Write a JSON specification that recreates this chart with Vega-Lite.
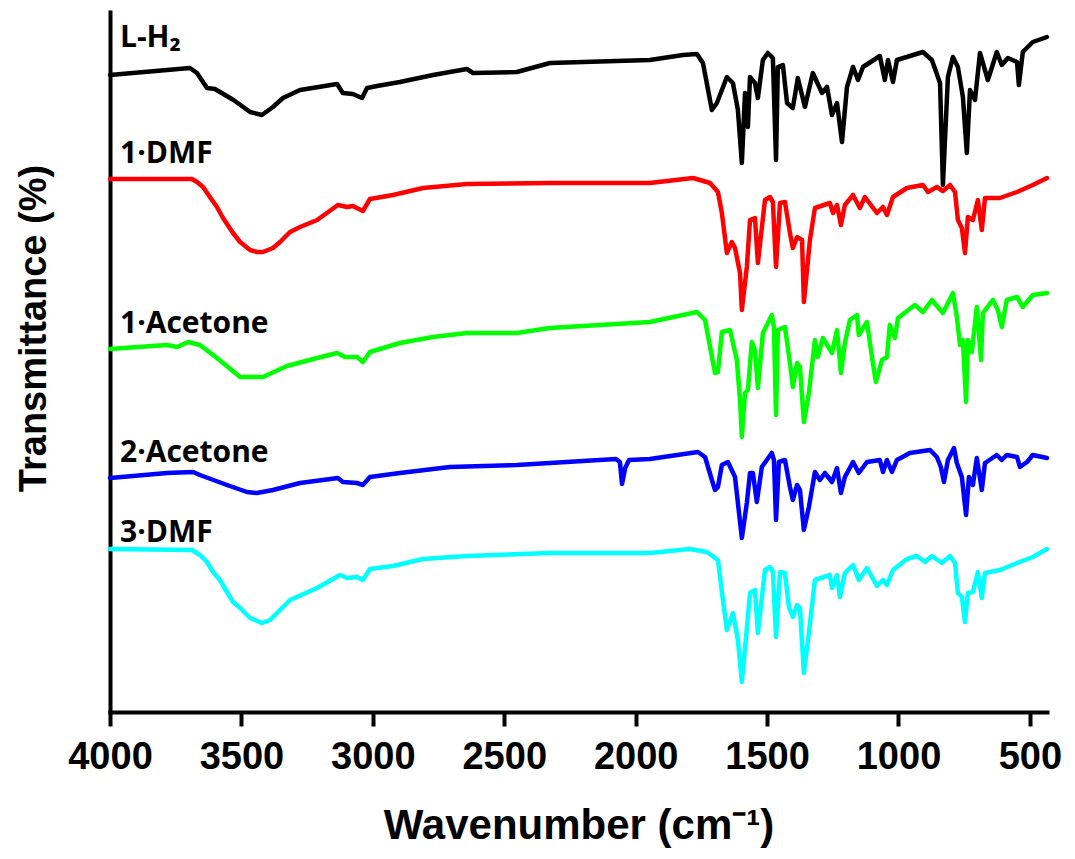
{
"$schema":"https://vega.github.io/schema/vega-lite/v6.json",
"width":937,"height":700,
"autosize":{"type":"none"},
"padding":{"left":110,"top":12,"right":28,"bottom":147},
"background":"white",
"config":{"view":{"stroke":null}},
"datasets":{
"spectra":[
{"s":"L-H2","w":4000,"t":637},{"s":"L-H2","w":3783,"t":642},{"s":"L-H2","w":3696,"t":644},{"s":"L-H2","w":3669,"t":639},{"s":"L-H2","w":3631,"t":624},{"s":"L-H2","w":3601,"t":623},{"s":"L-H2","w":3530,"t":612},{"s":"L-H2","w":3467,"t":600},{"s":"L-H2","w":3422,"t":597},{"s":"L-H2","w":3380,"t":605},{"s":"L-H2","w":3342,"t":614},{"s":"L-H2","w":3277,"t":622},{"s":"L-H2","w":3136,"t":628},{"s":"L-H2","w":3114,"t":619},{"s":"L-H2","w":3076,"t":618},{"s":"L-H2","w":3041,"t":614},{"s":"L-H2","w":3022,"t":624},{"s":"L-H2","w":2984,"t":626},{"s":"L-H2","w":2897,"t":630},{"s":"L-H2","w":2771,"t":637},{"s":"L-H2","w":2642,"t":643},{"s":"L-H2","w":2619,"t":639},{"s":"L-H2","w":2452,"t":640},{"s":"L-H2","w":2326,"t":649},{"s":"L-H2","w":1946,"t":652},{"s":"L-H2","w":1820,"t":657},{"s":"L-H2","w":1767,"t":658},{"s":"L-H2","w":1744,"t":649},{"s":"L-H2","w":1710,"t":602},{"s":"L-H2","w":1691,"t":609},{"s":"L-H2","w":1653,"t":635},{"s":"L-H2","w":1630,"t":629},{"s":"L-H2","w":1611,"t":602},{"s":"L-H2","w":1596,"t":549},{"s":"L-H2","w":1584,"t":619},{"s":"L-H2","w":1573,"t":585},{"s":"L-H2","w":1565,"t":635},{"s":"L-H2","w":1546,"t":629},{"s":"L-H2","w":1535,"t":614},{"s":"L-H2","w":1516,"t":652},{"s":"L-H2","w":1497,"t":659},{"s":"L-H2","w":1478,"t":654},{"s":"L-H2","w":1466,"t":552},{"s":"L-H2","w":1459,"t":645},{"s":"L-H2","w":1440,"t":647},{"s":"L-H2","w":1424,"t":609},{"s":"L-H2","w":1402,"t":604},{"s":"L-H2","w":1383,"t":634},{"s":"L-H2","w":1356,"t":605},{"s":"L-H2","w":1326,"t":639},{"s":"L-H2","w":1291,"t":619},{"s":"L-H2","w":1272,"t":625},{"s":"L-H2","w":1253,"t":597},{"s":"L-H2","w":1234,"t":609},{"s":"L-H2","w":1215,"t":570},{"s":"L-H2","w":1196,"t":625},{"s":"L-H2","w":1173,"t":645},{"s":"L-H2","w":1154,"t":632},{"s":"L-H2","w":1135,"t":645},{"s":"L-H2","w":1071,"t":656},{"s":"L-H2","w":1052,"t":632},{"s":"L-H2","w":1040,"t":652},{"s":"L-H2","w":1021,"t":630},{"s":"L-H2","w":1006,"t":652},{"s":"L-H2","w":907,"t":660},{"s":"L-H2","w":873,"t":652},{"s":"L-H2","w":842,"t":629},{"s":"L-H2","w":831,"t":527},{"s":"L-H2","w":812,"t":635},{"s":"L-H2","w":793,"t":655},{"s":"L-H2","w":774,"t":645},{"s":"L-H2","w":755,"t":615},{"s":"L-H2","w":740,"t":559},{"s":"L-H2","w":728,"t":622},{"s":"L-H2","w":709,"t":612},{"s":"L-H2","w":690,"t":659},{"s":"L-H2","w":660,"t":632},{"s":"L-H2","w":626,"t":660},{"s":"L-H2","w":607,"t":647},{"s":"L-H2","w":584,"t":654},{"s":"L-H2","w":549,"t":650},{"s":"L-H2","w":542,"t":627},{"s":"L-H2","w":527,"t":660},{"s":"L-H2","w":489,"t":670},{"s":"L-H2","w":435,"t":675},
{"s":"1·DMF","w":4000,"t":533},{"s":"1·DMF","w":3688,"t":533},{"s":"1·DMF","w":3669,"t":530},{"s":"1·DMF","w":3646,"t":525},{"s":"1·DMF","w":3620,"t":515},{"s":"1·DMF","w":3593,"t":505},{"s":"1·DMF","w":3570,"t":494},{"s":"1·DMF","w":3532,"t":479},{"s":"1·DMF","w":3505,"t":470},{"s":"1·DMF","w":3467,"t":462},{"s":"1·DMF","w":3441,"t":460},{"s":"1·DMF","w":3418,"t":460},{"s":"1·DMF","w":3380,"t":464},{"s":"1·DMF","w":3353,"t":470},{"s":"1·DMF","w":3315,"t":480},{"s":"1·DMF","w":3277,"t":485},{"s":"1·DMF","w":3212,"t":492},{"s":"1·DMF","w":3133,"t":507},{"s":"1·DMF","w":3098,"t":505},{"s":"1·DMF","w":3076,"t":506},{"s":"1·DMF","w":3038,"t":501},{"s":"1·DMF","w":3011,"t":513},{"s":"1·DMF","w":2923,"t":517},{"s":"1·DMF","w":2809,"t":524},{"s":"1·DMF","w":2642,"t":528},{"s":"1·DMF","w":2326,"t":529},{"s":"1·DMF","w":1946,"t":529},{"s":"1·DMF","w":1782,"t":534},{"s":"1·DMF","w":1717,"t":529},{"s":"1·DMF","w":1687,"t":520},{"s":"1·DMF","w":1672,"t":499},{"s":"1·DMF","w":1653,"t":459},{"s":"1·DMF","w":1634,"t":470},{"s":"1·DMF","w":1622,"t":464},{"s":"1·DMF","w":1603,"t":439},{"s":"1·DMF","w":1596,"t":402},{"s":"1·DMF","w":1577,"t":445},{"s":"1·DMF","w":1565,"t":492},{"s":"1·DMF","w":1546,"t":494},{"s":"1·DMF","w":1535,"t":449},{"s":"1·DMF","w":1508,"t":512},{"s":"1·DMF","w":1489,"t":515},{"s":"1·DMF","w":1478,"t":510},{"s":"1·DMF","w":1466,"t":445},{"s":"1·DMF","w":1451,"t":509},{"s":"1·DMF","w":1432,"t":510},{"s":"1·DMF","w":1413,"t":479},{"s":"1·DMF","w":1402,"t":464},{"s":"1·DMF","w":1386,"t":475},{"s":"1·DMF","w":1367,"t":472},{"s":"1·DMF","w":1360,"t":410},{"s":"1·DMF","w":1337,"t":472},{"s":"1·DMF","w":1318,"t":504},{"s":"1·DMF","w":1261,"t":509},{"s":"1·DMF","w":1249,"t":499},{"s":"1·DMF","w":1234,"t":507},{"s":"1·DMF","w":1219,"t":487},{"s":"1·DMF","w":1204,"t":507},{"s":"1·DMF","w":1173,"t":517},{"s":"1·DMF","w":1147,"t":504},{"s":"1·DMF","w":1128,"t":515},{"s":"1·DMF","w":1082,"t":499},{"s":"1·DMF","w":1059,"t":505},{"s":"1·DMF","w":1044,"t":497},{"s":"1·DMF","w":1021,"t":515},{"s":"1·DMF","w":968,"t":524},{"s":"1·DMF","w":907,"t":527},{"s":"1·DMF","w":888,"t":520},{"s":"1·DMF","w":854,"t":525},{"s":"1·DMF","w":831,"t":521},{"s":"1·DMF","w":804,"t":527},{"s":"1·DMF","w":785,"t":520},{"s":"1·DMF","w":774,"t":492},{"s":"1·DMF","w":759,"t":484},{"s":"1·DMF","w":747,"t":459},{"s":"1·DMF","w":736,"t":495},{"s":"1·DMF","w":717,"t":492},{"s":"1·DMF","w":698,"t":512},{"s":"1·DMF","w":683,"t":482},{"s":"1·DMF","w":671,"t":514},{"s":"1·DMF","w":614,"t":514},{"s":"1·DMF","w":549,"t":520},{"s":"1·DMF","w":489,"t":527},{"s":"1·DMF","w":435,"t":534},
{"s":"1·Acetone","w":4000,"t":363},{"s":"1·Acetone","w":3783,"t":367},{"s":"1·Acetone","w":3745,"t":365},{"s":"1·Acetone","w":3703,"t":370},{"s":"1·Acetone","w":3658,"t":367},{"s":"1·Acetone","w":3593,"t":354},{"s":"1·Acetone","w":3505,"t":335},{"s":"1·Acetone","w":3418,"t":335},{"s":"1·Acetone","w":3327,"t":346},{"s":"1·Acetone","w":3212,"t":354},{"s":"1·Acetone","w":3136,"t":359},{"s":"1·Acetone","w":3106,"t":355},{"s":"1·Acetone","w":3060,"t":355},{"s":"1·Acetone","w":3038,"t":350},{"s":"1·Acetone","w":3011,"t":360},{"s":"1·Acetone","w":2897,"t":369},{"s":"1·Acetone","w":2771,"t":375},{"s":"1·Acetone","w":2642,"t":379},{"s":"1·Acetone","w":2452,"t":379},{"s":"1·Acetone","w":2326,"t":384},{"s":"1·Acetone","w":1946,"t":390},{"s":"1·Acetone","w":1767,"t":400},{"s":"1·Acetone","w":1736,"t":392},{"s":"1·Acetone","w":1717,"t":365},{"s":"1·Acetone","w":1698,"t":339},{"s":"1·Acetone","w":1687,"t":340},{"s":"1·Acetone","w":1672,"t":380},{"s":"1·Acetone","w":1641,"t":382},{"s":"1·Acetone","w":1615,"t":352},{"s":"1·Acetone","w":1603,"t":312},{"s":"1·Acetone","w":1596,"t":275},{"s":"1·Acetone","w":1584,"t":319},{"s":"1·Acetone","w":1573,"t":322},{"s":"1·Acetone","w":1558,"t":370},{"s":"1·Acetone","w":1546,"t":362},{"s":"1·Acetone","w":1535,"t":324},{"s":"1·Acetone","w":1516,"t":379},{"s":"1·Acetone","w":1482,"t":397},{"s":"1·Acetone","w":1474,"t":385},{"s":"1·Acetone","w":1466,"t":297},{"s":"1·Acetone","w":1459,"t":382},{"s":"1·Acetone","w":1432,"t":385},{"s":"1·Acetone","w":1413,"t":349},{"s":"1·Acetone","w":1402,"t":325},{"s":"1·Acetone","w":1386,"t":349},{"s":"1·Acetone","w":1375,"t":345},{"s":"1·Acetone","w":1360,"t":290},{"s":"1·Acetone","w":1341,"t":319},{"s":"1·Acetone","w":1318,"t":372},{"s":"1·Acetone","w":1307,"t":355},{"s":"1·Acetone","w":1288,"t":374},{"s":"1·Acetone","w":1253,"t":359},{"s":"1·Acetone","w":1234,"t":382},{"s":"1·Acetone","w":1219,"t":339},{"s":"1·Acetone","w":1204,"t":369},{"s":"1·Acetone","w":1185,"t":392},{"s":"1·Acetone","w":1158,"t":397},{"s":"1·Acetone","w":1151,"t":377},{"s":"1·Acetone","w":1120,"t":390},{"s":"1·Acetone","w":1101,"t":355},{"s":"1·Acetone","w":1086,"t":330},{"s":"1·Acetone","w":1063,"t":352},{"s":"1·Acetone","w":1044,"t":355},{"s":"1·Acetone","w":1033,"t":387},{"s":"1·Acetone","w":1014,"t":374},{"s":"1·Acetone","w":1002,"t":394},{"s":"1·Acetone","w":938,"t":407},{"s":"1·Acetone","w":907,"t":400},{"s":"1·Acetone","w":873,"t":412},{"s":"1·Acetone","w":831,"t":399},{"s":"1·Acetone","w":793,"t":419},{"s":"1·Acetone","w":778,"t":395},{"s":"1·Acetone","w":766,"t":367},{"s":"1·Acetone","w":755,"t":372},{"s":"1·Acetone","w":743,"t":310},{"s":"1·Acetone","w":736,"t":372},{"s":"1·Acetone","w":721,"t":360},{"s":"1·Acetone","w":702,"t":405},{"s":"1·Acetone","w":686,"t":352},{"s":"1·Acetone","w":679,"t":399},{"s":"1·Acetone","w":641,"t":412},{"s":"1·Acetone","w":622,"t":402},{"s":"1·Acetone","w":607,"t":385},{"s":"1·Acetone","w":588,"t":412},{"s":"1·Acetone","w":549,"t":415},{"s":"1·Acetone","w":527,"t":405},{"s":"1·Acetone","w":489,"t":417},{"s":"1·Acetone","w":435,"t":419},
{"s":"2·Acetone","w":4000,"t":234},{"s":"2·Acetone","w":3783,"t":239},{"s":"2·Acetone","w":3684,"t":240},{"s":"2·Acetone","w":3658,"t":237},{"s":"2·Acetone","w":3555,"t":227},{"s":"2·Acetone","w":3479,"t":220},{"s":"2·Acetone","w":3441,"t":219},{"s":"2·Acetone","w":3380,"t":222},{"s":"2·Acetone","w":3277,"t":229},{"s":"2·Acetone","w":3133,"t":234},{"s":"2·Acetone","w":3114,"t":230},{"s":"2·Acetone","w":3060,"t":229},{"s":"2·Acetone","w":3038,"t":227},{"s":"2·Acetone","w":3011,"t":235},{"s":"2·Acetone","w":2897,"t":239},{"s":"2·Acetone","w":2707,"t":245},{"s":"2·Acetone","w":2452,"t":247},{"s":"2·Acetone","w":2326,"t":249},{"s":"2·Acetone","w":2075,"t":253},{"s":"2·Acetone","w":2060,"t":250},{"s":"2·Acetone","w":2052,"t":228},{"s":"2·Acetone","w":2040,"t":244},{"s":"2·Acetone","w":2025,"t":252},{"s":"2·Acetone","w":1946,"t":253},{"s":"2·Acetone","w":1763,"t":260},{"s":"2·Acetone","w":1736,"t":255},{"s":"2·Acetone","w":1710,"t":232},{"s":"2·Acetone","w":1698,"t":222},{"s":"2·Acetone","w":1687,"t":225},{"s":"2·Acetone","w":1672,"t":247},{"s":"2·Acetone","w":1649,"t":250},{"s":"2·Acetone","w":1622,"t":235},{"s":"2·Acetone","w":1611,"t":209},{"s":"2·Acetone","w":1596,"t":174},{"s":"2·Acetone","w":1577,"t":209},{"s":"2·Acetone","w":1565,"t":239},{"s":"2·Acetone","w":1554,"t":239},{"s":"2·Acetone","w":1539,"t":210},{"s":"2·Acetone","w":1520,"t":245},{"s":"2·Acetone","w":1482,"t":259},{"s":"2·Acetone","w":1474,"t":252},{"s":"2·Acetone","w":1466,"t":192},{"s":"2·Acetone","w":1455,"t":250},{"s":"2·Acetone","w":1432,"t":252},{"s":"2·Acetone","w":1413,"t":225},{"s":"2·Acetone","w":1402,"t":212},{"s":"2·Acetone","w":1386,"t":227},{"s":"2·Acetone","w":1375,"t":222},{"s":"2·Acetone","w":1360,"t":182},{"s":"2·Acetone","w":1341,"t":205},{"s":"2·Acetone","w":1318,"t":240},{"s":"2·Acetone","w":1299,"t":232},{"s":"2·Acetone","w":1280,"t":239},{"s":"2·Acetone","w":1253,"t":230},{"s":"2·Acetone","w":1234,"t":244},{"s":"2·Acetone","w":1219,"t":219},{"s":"2·Acetone","w":1204,"t":235},{"s":"2·Acetone","w":1173,"t":250},{"s":"2·Acetone","w":1151,"t":239},{"s":"2·Acetone","w":1120,"t":250},{"s":"2·Acetone","w":1071,"t":252},{"s":"2·Acetone","w":1059,"t":240},{"s":"2·Acetone","w":1044,"t":252},{"s":"2·Acetone","w":1025,"t":240},{"s":"2·Acetone","w":1006,"t":252},{"s":"2·Acetone","w":957,"t":259},{"s":"2·Acetone","w":880,"t":262},{"s":"2·Acetone","w":854,"t":255},{"s":"2·Acetone","w":839,"t":245},{"s":"2·Acetone","w":827,"t":230},{"s":"2·Acetone","w":812,"t":252},{"s":"2·Acetone","w":789,"t":264},{"s":"2·Acetone","w":778,"t":249},{"s":"2·Acetone","w":759,"t":235},{"s":"2·Acetone","w":743,"t":197},{"s":"2·Acetone","w":732,"t":235},{"s":"2·Acetone","w":717,"t":227},{"s":"2·Acetone","w":702,"t":254},{"s":"2·Acetone","w":683,"t":222},{"s":"2·Acetone","w":671,"t":249},{"s":"2·Acetone","w":626,"t":257},{"s":"2·Acetone","w":607,"t":252},{"s":"2·Acetone","w":588,"t":257},{"s":"2·Acetone","w":549,"t":255},{"s":"2·Acetone","w":538,"t":245},{"s":"2·Acetone","w":511,"t":250},{"s":"2·Acetone","w":489,"t":257},{"s":"2·Acetone","w":435,"t":254},
{"s":"3·DMF","w":4000,"t":163},{"s":"3·DMF","w":3688,"t":162},{"s":"3·DMF","w":3658,"t":157},{"s":"3·DMF","w":3631,"t":150},{"s":"3·DMF","w":3608,"t":140},{"s":"3·DMF","w":3582,"t":132},{"s":"3·DMF","w":3555,"t":120},{"s":"3·DMF","w":3532,"t":110},{"s":"3·DMF","w":3505,"t":104},{"s":"3·DMF","w":3467,"t":94},{"s":"3·DMF","w":3422,"t":89},{"s":"3·DMF","w":3391,"t":92},{"s":"3·DMF","w":3353,"t":102},{"s":"3·DMF","w":3315,"t":112},{"s":"3·DMF","w":3212,"t":124},{"s":"3·DMF","w":3125,"t":137},{"s":"3·DMF","w":3098,"t":134},{"s":"3·DMF","w":3060,"t":135},{"s":"3·DMF","w":3038,"t":132},{"s":"3·DMF","w":3011,"t":143},{"s":"3·DMF","w":2923,"t":146},{"s":"3·DMF","w":2809,"t":153},{"s":"3·DMF","w":2642,"t":156},{"s":"3·DMF","w":2326,"t":159},{"s":"3·DMF","w":1946,"t":159},{"s":"3·DMF","w":1794,"t":163},{"s":"3·DMF","w":1729,"t":160},{"s":"3·DMF","w":1687,"t":152},{"s":"3·DMF","w":1668,"t":112},{"s":"3·DMF","w":1653,"t":82},{"s":"3·DMF","w":1630,"t":99},{"s":"3·DMF","w":1611,"t":72},{"s":"3·DMF","w":1596,"t":30},{"s":"3·DMF","w":1581,"t":72},{"s":"3·DMF","w":1565,"t":119},{"s":"3·DMF","w":1546,"t":122},{"s":"3·DMF","w":1535,"t":79},{"s":"3·DMF","w":1508,"t":142},{"s":"3·DMF","w":1489,"t":145},{"s":"3·DMF","w":1478,"t":140},{"s":"3·DMF","w":1466,"t":75},{"s":"3·DMF","w":1451,"t":140},{"s":"3·DMF","w":1432,"t":139},{"s":"3·DMF","w":1417,"t":105},{"s":"3·DMF","w":1402,"t":95},{"s":"3·DMF","w":1386,"t":107},{"s":"3·DMF","w":1375,"t":104},{"s":"3·DMF","w":1360,"t":39},{"s":"3·DMF","w":1341,"t":79},{"s":"3·DMF","w":1318,"t":132},{"s":"3·DMF","w":1261,"t":137},{"s":"3·DMF","w":1253,"t":124},{"s":"3·DMF","w":1234,"t":137},{"s":"3·DMF","w":1223,"t":115},{"s":"3·DMF","w":1204,"t":139},{"s":"3·DMF","w":1173,"t":147},{"s":"3·DMF","w":1151,"t":132},{"s":"3·DMF","w":1120,"t":144},{"s":"3·DMF","w":1082,"t":126},{"s":"3·DMF","w":1059,"t":132},{"s":"3·DMF","w":1044,"t":127},{"s":"3·DMF","w":1021,"t":142},{"s":"3·DMF","w":968,"t":153},{"s":"3·DMF","w":930,"t":156},{"s":"3·DMF","w":899,"t":150},{"s":"3·DMF","w":873,"t":156},{"s":"3·DMF","w":835,"t":149},{"s":"3·DMF","w":804,"t":156},{"s":"3·DMF","w":785,"t":149},{"s":"3·DMF","w":774,"t":119},{"s":"3·DMF","w":759,"t":115},{"s":"3·DMF","w":747,"t":90},{"s":"3·DMF","w":736,"t":119},{"s":"3·DMF","w":717,"t":120},{"s":"3·DMF","w":698,"t":140},{"s":"3·DMF","w":683,"t":114},{"s":"3·DMF","w":671,"t":139},{"s":"3·DMF","w":614,"t":142},{"s":"3·DMF","w":549,"t":149},{"s":"3·DMF","w":489,"t":155},{"s":"3·DMF","w":435,"t":163}
],
"labels":[
{"label":"L-H₂","w":3962,"t":665},
{"label":"1·DMF","w":3962,"t":549},
{"label":"1·Acetone","w":3962,"t":379},
{"label":"2·Acetone","w":3962,"t":250},
{"label":"3·DMF","w":3962,"t":170}
]
},
"layer":[
{"data":{"name":"spectra"},
"mark":{"type":"line","strokeWidth":4.5,"strokeJoin":"round","strokeCap":"round"},
"encoding":{
"x":{"field":"w","type":"quantitative","scale":{"domain":[435,4000],"reverse":true,"nice":false,"zero":false},
"axis":{"values":[4000,3500,3000,2500,2000,1500,1000,500],"format":"d","title":"Wavenumber (cm⁻¹)","grid":false,
"domainColor":"black","domainWidth":4,"domainCap":"square","tickColor":"black","tickWidth":4,"tickSize":14,
"labelFont":"Liberation Sans","labelFontWeight":"bold","labelFontSize":38,"labelColor":"black","labelBaseline":"alphabetic","labelPadding":42,"labelFlush":false,"labelOverlap":false,
"titleFont":"Liberation Sans","titleFontWeight":"bold","titleFontSize":42,"titleColor":"black","titleBaseline":"alphabetic","titleY":126}},
"y":{"field":"t","type":"quantitative","scale":{"domain":[0,700],"nice":false,"zero":false},
"axis":{"ticks":false,"labels":false,"grid":false,"domainColor":"black","domainWidth":4,"domainCap":"square",
"title":"Transmittance (%)","titleFont":"Liberation Sans","titleFontWeight":"bold","titleFontSize":38,"titleColor":"black","titleBaseline":"alphabetic","titleX":-65,"titleY":316}},
"color":{"field":"s","type":"nominal","scale":{"domain":["L-H2","1·DMF","1·Acetone","2·Acetone","3·DMF"],"range":["#000000","#ff0000","#00ff00","#0000ff","#00ffff"]},"legend":null}
}},
{"data":{"name":"labels"},
"mark":{"type":"text","font":"Open Sans","fontWeight":"bold","fontSize":30,"align":"left","baseline":"alphabetic","color":"black"},
"encoding":{
"x":{"field":"w","type":"quantitative"},
"y":{"field":"t","type":"quantitative"},
"text":{"field":"label"}
}}
]
}
